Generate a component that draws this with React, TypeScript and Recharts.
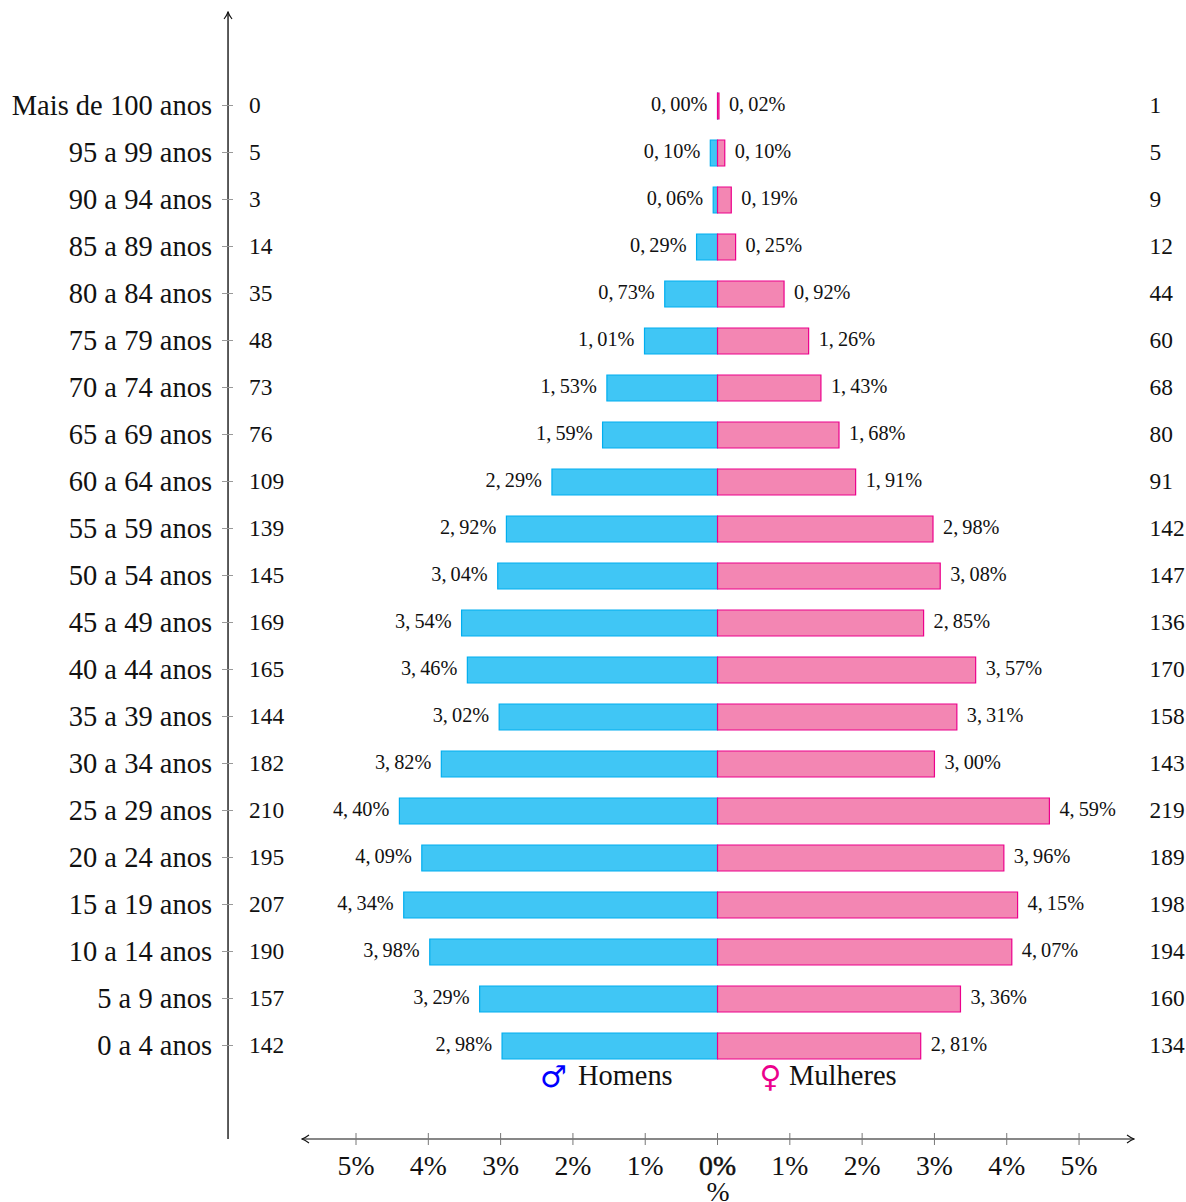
import { BarChart, Bar, XAxis, YAxis, LabelList, ReferenceLine } from "recharts";

const FONT = '"Liberation Serif", "Times New Roman", serif';

const ageGroups = [
  "Mais de 100 anos", "95 a 99 anos", "90 a 94 anos", "85 a 89 anos", "80 a 84 anos",
  "75 a 79 anos", "70 a 74 anos", "65 a 69 anos", "60 a 64 anos", "55 a 59 anos",
  "50 a 54 anos", "45 a 49 anos", "40 a 44 anos", "35 a 39 anos", "30 a 34 anos",
  "25 a 29 anos", "20 a 24 anos", "15 a 19 anos", "10 a 14 anos", "5 a 9 anos", "0 a 4 anos",
];
const menPct = [0, 0.1, 0.06, 0.29, 0.73, 1.01, 1.53, 1.59, 2.29, 2.92, 3.04, 3.54, 3.46, 3.02, 3.82, 4.4, 4.09, 4.34, 3.98, 3.29, 2.98];
const womenPct = [0.02, 0.1, 0.19, 0.25, 0.92, 1.26, 1.43, 1.68, 1.91, 2.98, 3.08, 2.85, 3.57, 3.31, 3.0, 4.59, 3.96, 4.15, 4.07, 3.36, 2.81];
const menCount = [0, 5, 3, 14, 35, 48, 73, 76, 109, 139, 145, 169, 165, 144, 182, 210, 195, 207, 190, 157, 142];
const womenCount = [1, 5, 9, 12, 44, 60, 68, 80, 91, 142, 147, 136, 170, 158, 143, 219, 189, 198, 194, 160, 134];
const pctTicks = [-5, -4, -3, -2, -1, 0, 1, 2, 3, 4, 5];

const fmt = (v: number) => v.toFixed(2).replace(".", ",\u2009") + "%";

const data = ageGroups.map((age, i) => ({
  age,
  men: -menPct[i],
  women: womenPct[i],
  menLabel: fmt(menPct[i]),
  womenLabel: fmt(womenPct[i]),
}));

function AgeTick({ y, index, payload }: any) {
  return (
    <g fontFamily={FONT} fill="#111">
      <text x={212} y={y + 9} fontSize={28.5} textAnchor="end">{payload.value}</text>
      <line x1={222} x2={233} y1={y} y2={y} stroke="#999" />
      <text x={249} y={y + 7} fontSize={23.4}>{menCount[index]}</text>
      <text x={1149.5} y={y + 7} fontSize={23.4}>{womenCount[index]}</text>
    </g>
  );
}

function PctTick({ x, y, payload }: any) {
  const label = Math.abs(payload.value) + "%";
  // the 0% label looks heavier in the original, both sides print over each other
  const heavy = payload.value === 0 ? { stroke: "#111", strokeWidth: 0.5 } : {};
  return (
    <g fontFamily={FONT} fill="#111" fontSize={27.7} textAnchor="middle">
      <line x1={x} x2={x} y1={y - 14} y2={y - 2} stroke="#777" />
      <text x={x} y={y + 28} {...heavy}>{label}</text>
    </g>
  );
}

const barLabel = (side: "left" | "right") => (p: any) => {
  const low = Math.min(p.x, p.x + p.width);
  const high = Math.max(p.x, p.x + p.width);
  return (
    <text
      x={side === "left" ? low - 10 : high + 10}
      y={p.y + p.height / 2 + 5}
      textAnchor={side === "left" ? "end" : "start"}
      fontFamily={FONT}
      fontSize={20.3}
      fill="#111"
    >
      {p.value}
    </text>
  );
};

export default function App() {
  return (
    <div style={{ position: "absolute", left: 0, top: 0, width: 1186, height: 1202 }}>
      <BarChart
        width={1186}
        height={1202}
        data={data}
        layout="vertical"
        stackOffset="sign"
        barSize={26}
        margin={{ top: 12, right: 52, bottom: 0, left: 2 }}
      >
        <defs>
          <marker id="arrowHead" markerWidth={10} markerHeight={10} refX={9} refY={5} orient="auto-start-reverse" markerUnits="userSpaceOnUse">
            <path d="M2 1 Q6 4 9 5 Q6 6 2 9" fill="none" stroke="#111" strokeWidth={1.1} />
          </marker>
        </defs>
        <XAxis
          type="number"
          domain={[-5.747, 5.76]}
          ticks={pctTicks}
          height={63}
          interval={0}
          tick={<PctTick />}
          tickLine={false}
          axisLine={{ stroke: "#111", strokeWidth: 1.2, markerStart: "url(#arrowHead)", markerEnd: "url(#arrowHead)" }}
          label={{ value: "%", position: "insideBottom", offset: 1, fontFamily: FONT, fontSize: 27.7, fill: "#111" }}
        />
        <YAxis
          type="category"
          dataKey="age"
          width={300}
          interval={0}
          padding={{ top: 70, bottom: 70 }}
          axisLine={false}
          tickLine={false}
          tick={<AgeTick />}
        />
        <ReferenceLine
          x={-6.77}
          ifOverflow="visible"
          stroke="#333"
          strokeWidth={1.6}
          markerEnd="url(#arrowHead)"
        />
        <Bar dataKey="men" stackId="pop" fill="#40c6f5" stroke="#00aeef" strokeWidth={1.2} minPointSize={0.01} isAnimationActive={false}>
          <LabelList dataKey="menLabel" content={barLabel("left")} />
        </Bar>
        <Bar dataKey="women" stackId="pop" fill="#f386b3" stroke="#ec008c" strokeWidth={1.2} isAnimationActive={false}>
          <LabelList dataKey="womenLabel" content={barLabel("right")} />
        </Bar>
        <text x={540} y={1087} fontFamily="DejaVu Sans" fontSize={30} fill="#0000ff">♂</text>
        <text x={578} y={1085} fontFamily={FONT} fontSize={28.4} fill="#111">Homens</text>
        <text x={759.5} y={1087} fontFamily="DejaVu Sans" fontSize={30} fill="#ec008c">♀</text>
        <text x={789} y={1085} fontFamily={FONT} fontSize={28.5} fill="#111">Mulheres</text>
      </BarChart>
    </div>
  );
}
